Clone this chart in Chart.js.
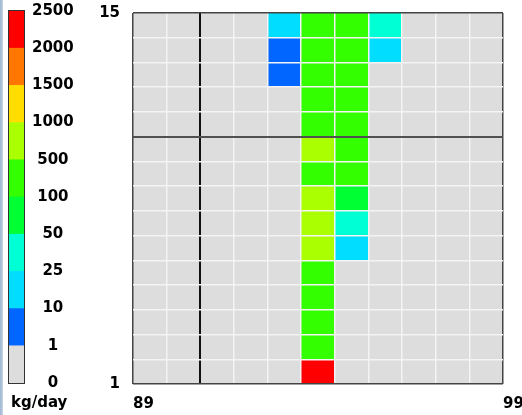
<!DOCTYPE html>
<html>
<head>
<meta charset="utf-8">
<script src="https://cdn.jsdelivr.net/npm/chart.js@4/dist/chart.umd.min.js"></script>
<style>
  html, body { margin: 0; padding: 0; background: #fff; }
  body { width: 522px; height: 415px; position: relative; overflow: hidden; }
  #edge { position: absolute; left: 0; top: 0; width: 3px; height: 415px; background: linear-gradient(to right, #9fb4d2, #c6d3e6); z-index: 2; }
  #legendChart { position: absolute; left: 0; top: 0; }
  #gridChart { position: absolute; left: 95px; top: 0; }
</style>
</head>
<body>
<div id="edge"></div>
<canvas id="legendChart" width="95" height="415"></canvas>
<canvas id="gridChart" width="427" height="415"></canvas>
<script>
const years = ['89', '90', '91', '92', '93', '94', '95', '96', '97', '98', '99'];
const binEdges = [0, 1, 10, 25, 50, 100, 500, 1000, 1500, 2000, 2500];
const binColors = ['#dddddd', '#0066ff', '#00ddff', '#00ffd5', '#00ff33', '#33ff00', '#aaff00', '#ffdd00', '#ff7700', '#ff0000'];
const unitLabel = 'kg/day';

// kg/day per cell, columns 89..99 (estimated from the colour classes)
const row1  = [0, 0, 0, 0, 0, 2200, 0, 0, 0, 0, 0];
const row2  = [0, 0, 0, 0, 0, 250, 0, 0, 0, 0, 0];
const row3  = [0, 0, 0, 0, 0, 250, 0, 0, 0, 0, 0];
const row4  = [0, 0, 0, 0, 0, 250, 0, 0, 0, 0, 0];
const row5  = [0, 0, 0, 0, 0, 250, 0, 0, 0, 0, 0];
const row6  = [0, 0, 0, 0, 0, 700, 18, 0, 0, 0, 0];
const row7  = [0, 0, 0, 0, 0, 700, 35, 0, 0, 0, 0];
const row8  = [0, 0, 0, 0, 0, 700, 75, 0, 0, 0, 0];
const row9  = [0, 0, 0, 0, 0, 250, 250, 0, 0, 0, 0];
const row10 = [0, 0, 0, 0, 0, 700, 250, 0, 0, 0, 0];
const row11 = [0, 0, 0, 0, 0, 250, 250, 0, 0, 0, 0];
const row12 = [0, 0, 0, 0, 0, 250, 250, 0, 0, 0, 0];
const row13 = [0, 0, 0, 0, 5, 250, 250, 0, 0, 0, 0];
const row14 = [0, 0, 0, 0, 5, 250, 250, 18, 0, 0, 0];
const row15 = [0, 0, 0, 0, 18, 250, 250, 35, 0, 0, 0];
const rows = [row1, row2, row3, row4, row5, row6, row7, row8, row9, row10, row11, row12, row13, row14, row15];

Chart.defaults.font.family = 'DejaVu Sans';
Chart.defaults.font.size = 15;
Chart.defaults.font.weight = 'bold';
Chart.defaults.color = '#000';

function colorFor(v) {
  for (let i = binEdges.length - 2; i >= 0; i--) {
    if (v >= binEdges[i]) return binColors[i];
  }
  return binColors[0];
}

// outline round the legend bar + unit text under it
const legendDeco = {
  id: 'legendDeco',
  afterDraw(chart) {
    const a = chart.chartArea;
    const c = chart.ctx;
    c.save();
    c.strokeStyle = '#333';
    c.lineWidth = 1;
    c.strokeRect(a.left - 0.5, a.top - 0.5, a.right - a.left + 1, a.bottom - a.top + 1);
    c.fillStyle = '#000';
    c.font = 'bold 15px "DejaVu Sans"';
    c.textAlign = 'left';
    c.textBaseline = 'alphabetic';
    c.fillText(unitLabel, a.left + 2, a.bottom + 24);
    c.restore();
  }
};

new Chart(document.getElementById('legendChart'), {
  type: 'bar',
  data: {
    labels: [''],
    datasets: binColors.map((c, i) => ({
      label: binEdges[i] + '-' + binEdges[i + 1],
      data: [1],
      backgroundColor: c
    }))
  },
  options: {
    responsive: false,
    animation: false,
    layout: { padding: { left: 9, top: 11 } },
    plugins: { legend: { display: false }, tooltip: { enabled: false } },
    datasets: { bar: { barPercentage: 1, categoryPercentage: 1, borderWidth: 0 } },
    scales: {
      x: {
        stacked: true,
        grid: { display: false },
        border: { display: false },
        ticks: { display: false },
        afterFit: s => { s.height = 32; }
      },
      y: {
        stacked: true,
        position: 'right',
        min: 0,
        max: binColors.length,
        grid: { display: false },
        border: { display: false },
        ticks: { stepSize: 1, padding: 0, crossAlign: 'center', autoSkip: false, callback: v => String(binEdges[v]) },
        afterFit: s => { s.width = 71; s.paddingTop = 0; s.paddingBottom = 0; }
      }
    }
  },
  plugins: [legendDeco]
});

const edgeLine = '#444';
const cellLine = '#f4f4f4';

new Chart(document.getElementById('gridChart'), {
  type: 'bar',
  data: {
    labels: years,
    datasets: rows.map((vals, i) => ({
      label: 'row ' + (i + 1),
      data: vals.map(() => 1),
      backgroundColor: vals.map(colorFor)
    }))
  },
  options: {
    responsive: false,
    animation: false,
    layout: { padding: { top: 13, right: 19 } },
    plugins: { legend: { display: false }, tooltip: { enabled: false } },
    datasets: { bar: { barPercentage: 1, categoryPercentage: 1, borderWidth: 0 } },
    scales: {
      x: {
        stacked: true,
        grid: {
          z: 1,
          offset: true,
          drawTicks: false,
          color: c => c.type !== 'tick' || c.index === 0 ? edgeLine : (c.index === 2 ? '#111' : cellLine),
          lineWidth: c => c.type === 'tick' && c.index === 2 ? 2 : 1.5
        },
        border: { display: false },
        ticks: { display: false },
        afterFit: s => { s.height = 0; s.paddingLeft = 0; s.paddingRight = 0; }
      },
      xl: {
        type: 'linear',
        position: 'bottom',
        offset: false,
        min: 0,
        max: years.length,
        grid: { display: false },
        border: { display: false },
        afterBuildTicks: s => { s.ticks = [{ value: 0 }, { value: years.length }]; },
        ticks: {
          align: 'start',
          padding: 3,
          autoSkip: false,
          callback: v => v === 0 ? years[0] : years[years.length - 1]
        },
        afterFit: s => { s.height = 31; s.paddingLeft = 0; s.paddingRight = 0; }
      },
      y: {
        stacked: true,
        min: 0,
        max: rows.length,
        grid: {
          z: 1,
          drawTicks: false,
          color: c => {
            const v = c.tick ? c.tick.value : -1;
            if (v === 0 || v === rows.length) return edgeLine;
            return v === 10 ? '#505050' : cellLine;
          },
          lineWidth: c => c.tick && c.tick.value === 10 ? 2 : 1.5
        },
        border: { display: false },
        ticks: {
          stepSize: 1,
          padding: 13,
          autoSkip: false,
          callback: v => v === rows.length ? String(rows.length) : (v === 0 ? '1' : '')
        },
        afterFit: s => { s.width = 38; s.paddingTop = 0; s.paddingBottom = 0; }
      }
    }
  }
});
</script>
</body>
</html>
